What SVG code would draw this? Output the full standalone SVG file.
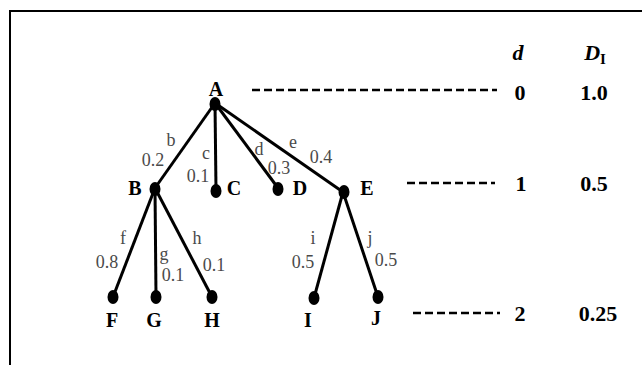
<svg xmlns="http://www.w3.org/2000/svg" width="642" height="365" viewBox="0 0 642 365">
<style>
.edge{stroke:#000;stroke-width:3;fill:none}
.dot{fill:#000}
.nl{font-family:'Liberation Serif','Times New Roman',serif;font-weight:bold;font-size:20px;fill:#000;text-anchor:middle}
.el{font-family:'Liberation Serif','Times New Roman',serif;font-size:18px;fill:#4a4a4a;text-anchor:middle}
.dash{stroke:#000;stroke-width:2.5;stroke-dasharray:8,4}
.col{font-family:'Liberation Serif','Times New Roman',serif;font-weight:bold;font-size:22px;fill:#000;text-anchor:middle}
</style>
<rect x="0" y="0" width="642" height="365" fill="#fff"/>
<rect x="10" y="11" width="650" height="370" fill="none" stroke="#000" stroke-width="2"/>
<g id="connectors">
<line class="edge" x1="215" y1="103" x2="155" y2="188"/>
<line class="edge" x1="215" y1="103" x2="216" y2="190"/>
<line class="edge" x1="215" y1="103" x2="278" y2="188"/>
<line class="edge" x1="215" y1="103" x2="343" y2="192"/>
<line class="edge" x1="155" y1="188" x2="113" y2="297"/>
<line class="edge" x1="155" y1="188" x2="156" y2="296"/>
<line class="edge" x1="155" y1="188" x2="212" y2="297"/>
<line class="edge" x1="343" y1="192" x2="314" y2="298"/>
<line class="edge" x1="343" y1="192" x2="378" y2="297"/>
<text class="el" x="171" y="146">b</text>
<text class="el" x="153" y="166">0.2</text>
<text class="el" x="206" y="159">c</text>
<text class="el" x="198" y="182">0.1</text>
<text class="el" x="259" y="155">d</text>
<text class="el" x="279" y="174">0.3</text>
<text class="el" x="293" y="148">e</text>
<text class="el" x="321" y="163">0.4</text>
<text class="el" x="123" y="244">f</text>
<text class="el" x="107" y="268">0.8</text>
<text class="el" x="164" y="260">g</text>
<text class="el" x="173" y="281">0.1</text>
<text class="el" x="197" y="244">h</text>
<text class="el" x="214" y="271">0.1</text>
<text class="el" x="313" y="244">i</text>
<text class="el" x="303" y="268">0.5</text>
<text class="el" x="370" y="244">j</text>
<text class="el" x="386" y="266">0.5</text>
</g>
<g id="A"><ellipse class="dot" cx="215" cy="104" rx="5.5" ry="7"/><text class="nl" x="216" y="96">A</text></g>
<g id="B"><ellipse class="dot" cx="155" cy="189" rx="5.5" ry="7"/><text class="nl" x="135" y="195">B</text></g>
<g id="C"><ellipse class="dot" cx="216" cy="191" rx="5.5" ry="7"/><text class="nl" x="234" y="195">C</text></g>
<g id="D"><ellipse class="dot" cx="278" cy="189" rx="5.5" ry="7"/><text class="nl" x="300" y="195">D</text></g>
<g id="E"><ellipse class="dot" cx="344" cy="192" rx="5.5" ry="7"/><text class="nl" x="367" y="195">E</text></g>
<g id="F"><ellipse class="dot" cx="113" cy="297" rx="5.5" ry="7"/><text class="nl" x="112" y="327">F</text></g>
<g id="G"><ellipse class="dot" cx="156" cy="297" rx="5.5" ry="7"/><text class="nl" x="154" y="327">G</text></g>
<g id="H"><ellipse class="dot" cx="212" cy="297" rx="5.5" ry="7"/><text class="nl" x="212" y="327">H</text></g>
<g id="I"><ellipse class="dot" cx="314" cy="298" rx="5.5" ry="7"/><text class="nl" x="308" y="327">I</text></g>
<g id="J"><ellipse class="dot" cx="378" cy="297" rx="5.5" ry="7"/><text class="nl" x="376" y="325">J</text></g>
<g id="levels">
<line class="dash" x1="252" y1="90" x2="497" y2="90"/>
<line class="dash" x1="407" y1="183" x2="495" y2="183"/>
<line class="dash" x1="413" y1="313" x2="500" y2="313"/>
<text class="col" x="518" y="60" font-style="italic">d</text>
<text class="col" x="595" y="60"><tspan font-style="italic">D</tspan><tspan font-size="15" dy="4">I</tspan></text>
<text class="col" x="520" y="100">0</text>
<text class="col" x="594" y="100">1.0</text>
<text class="col" x="521" y="191">1</text>
<text class="col" x="594" y="191">0.5</text>
<text class="col" x="520" y="321">2</text>
<text class="col" x="598" y="321">0.25</text>
</g>
</svg>
